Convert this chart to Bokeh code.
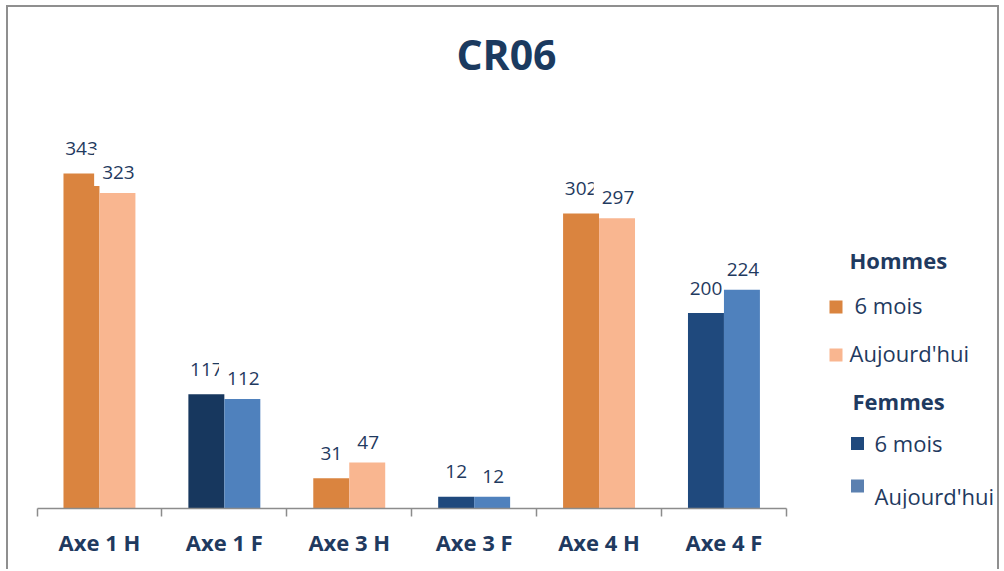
from bokeh.plotting import figure
from bokeh.models import Range1d, FixedTicker, ColumnDataSource
from bokeh.core.properties import value
from bokeh.embed import file_html
from bokeh.resources import INLINE

# ---- data ----
categories = ["Axe 1 H", "Axe 1 F", "Axe 3 H", "Axe 3 F", "Axe 4 H", "Axe 4 F"]
six_mois = [343, 117, 31, 12, 302, 200]
aujourdhui = [323, 112, 47, 12, 297, 224]
title = "CR06"
legend_groups = ["Hommes", "Femmes"]
legend_series = ["6 mois", "Aujourd'hui"]

# ---- styles ----
six_colors = ["#DA843F", "#17375E", "#DA843F", "#1F497D", "#DA843F", "#1F497D"]
auj_colors = ["#F9B690", "#4F81BD", "#F9B690", "#4F81BD", "#F9B690", "#4F81BD"]
legend_colors = ["#DA843F", "#F9B690", "#1F497D", "#5B80B0"]
TXT = "#1F3A60"
FONT = "Open Sans"

CW, CH = 993, 564          # canvas size (border drawn outside via CSS)
FRAME_BOTTOM = 501
LEFT = 28.5
PX_CAT = 124.9
PX_UNIT = 0.977
BAR_W = 0.288


def dx(cx):
    return (cx - LEFT) / PX_CAT


def dy(cy):
    return (FRAME_BOTTOM - cy) / PX_UNIT


p = figure(width=CW, height=CH, output_backend="svg", toolbar_location=None,
           x_range=Range1d(dx(0), dx(CW)), y_range=Range1d(0, dy(0)),
           y_axis_location=None)
p.min_border_left = 0
p.min_border_right = 0
p.min_border_top = 0
p.min_border_bottom = CH - FRAME_BOTTOM
p.outline_line_color = None
p.xgrid.visible = False
p.ygrid.visible = False
p.background_fill_color = "white"
p.border_fill_color = "white"
p.styles = {"margin-left": "6px", "margin-top": "5px",
            "border-left": "2px solid #8F8F8F", "border-top": "2px solid #8F8F8F",
            "border-right": "2px solid #8F8F8F"}

idx = list(range(len(categories)))
src = ColumnDataSource(dict(
    x6=[i + 0.5 - BAR_W / 2 for i in idx],
    xa=[i + 0.5 + BAR_W / 2 for i in idx],
    six=six_mois, auj=aujourdhui,
    c6=six_colors, ca=auj_colors,
    l6=[str(v) for v in six_mois], la=[str(v) for v in aujourdhui],
))

p.vbar(x="x6", top="six", bottom=0, width=BAR_W, fill_color="c6", line_color=None, source=src)
p.vbar(x="xa", top="auj", bottom=0, width=BAR_W, fill_color="ca", line_color=None, source=src)

p.text(x="x6", y="six", text="l6", source=src, text_font=value(FONT), text_font_size="19px",
       text_color=TXT, text_align="center", text_baseline="alphabetic", y_offset=-25)
p.text(x="xa", y="auj", text="la", source=src, text_font=value(FONT), text_font_size="19px",
       text_color=TXT, text_align="center", text_baseline="alphabetic", y_offset=-25,
       background_fill_color="white",
       padding=dict(left=8, right=6, top=16, bottom=7))

# title
p.text(x=[dx(498)], y=[dy(46)], text=[title], text_font=value(FONT), text_font_style="bold",
       text_font_size="41px", text_color="#1B3A5F", text_align="center", text_baseline="middle")

# legend (custom layout)
sq_x = [dx(827.5), dx(827.5), dx(849), dx(849)]
sq_y = [dy(299.5), dy(347.5), dy(436), dy(478.5)]
p.scatter(x=sq_x, y=sq_y, marker="square", size=13, fill_color=legend_colors, line_color=None)
p.text(x=[dx(841), dx(844)], y=[dy(252), dy(393)], text=legend_groups, text_font=value(FONT),
       text_font_style="bold", text_font_size="22px", text_color=TXT, text_align="left",
       text_baseline="middle")
p.text(x=[dx(846), dx(841), dx(866), dx(866)], y=[dy(297), dy(345), dy(435), dy(488)],
       text=legend_series * 2, text_font=value(FONT), text_font_size="22px", text_color=TXT,
       text_align="left", text_baseline="middle")

# x axis
ax = p.xaxis[0]
ax.ticker = FixedTicker(ticks=[i + 0.5 for i in idx], minor_ticks=list(range(len(categories) + 1)))
ax.major_label_overrides = {i + 0.5: c for i, c in zip(idx, categories)}
ax.bounds = (0, len(categories))
ax.axis_line_color = "#8C8C8C"
ax.axis_line_width = 1.5
ax.major_tick_line_color = None
ax.major_tick_out = 0
ax.major_tick_in = 0
ax.minor_tick_line_color = "#8C8C8C"
ax.minor_tick_line_width = 1.5
ax.minor_tick_out = 8
ax.minor_tick_in = 0
ax.major_label_text_font = FONT
ax.major_label_text_font_style = "bold"
ax.major_label_text_font_size = "22px"
ax.major_label_text_color = TXT
ax.major_label_standoff = 10

open("out.html", "w").write(file_html(p, INLINE))
